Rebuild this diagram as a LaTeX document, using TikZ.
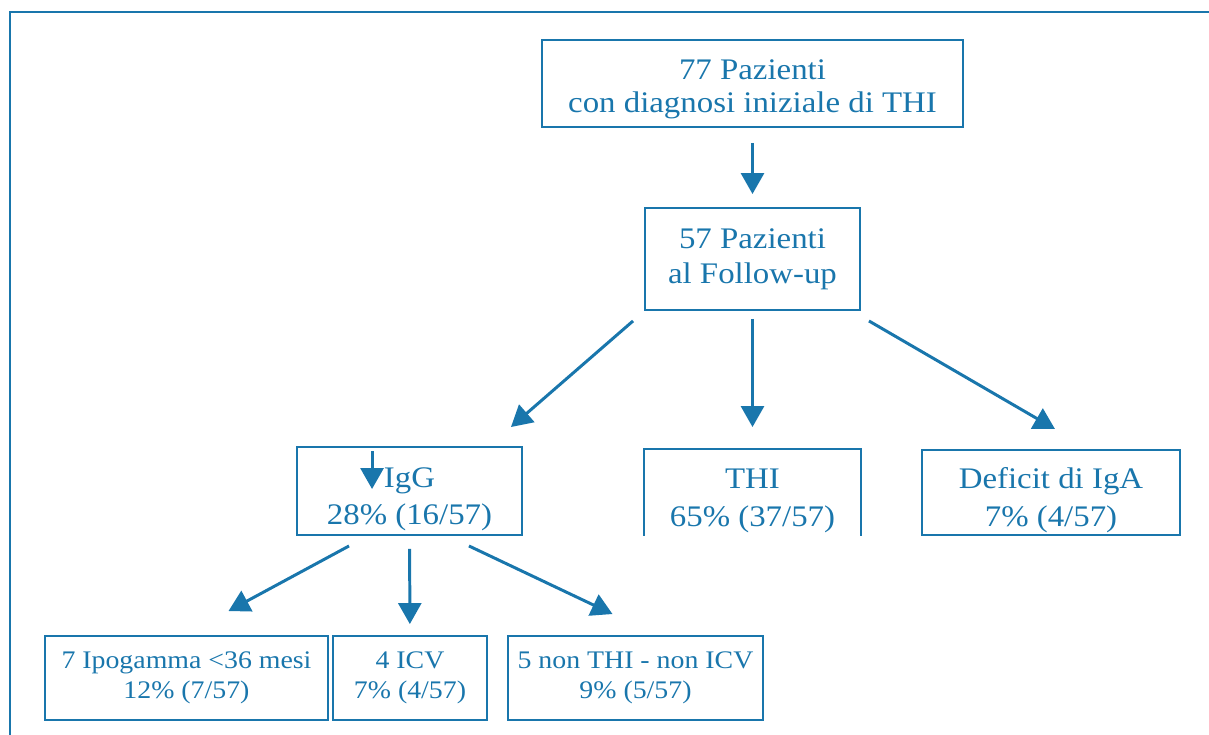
\documentclass[tikz,border=0pt]{standalone}
\usepackage{fontspec}
\setmainfont{Liberation Serif}[FakeStretch=1.1]
\usepackage{tikz}
\usetikzlibrary{arrows.meta,positioning,calc}
\definecolor{blu}{RGB}{25,118,172}
\begin{document}
\begin{tikzpicture}[
	box/.style={draw=blu,line width=1.1pt,text=blu,align=center,inner sep=0pt,font=\fontsize{17}{20}\selectfont},
	rowbox/.style={box,font=\fontsize{17}{21.5}\selectfont,text height=42.6pt,text depth=4pt},
	smallbox/.style={box,font=\fontsize{14.4}{17}\selectfont,minimum height=1.68cm},
	arr/.style={draw=blu,line width=1.7pt,-{Triangle[length=0.42cm,width=0.46cm]}}]
	\useasboundingbox (0,0) rectangle (24.18,-14.7);
	\draw[blu,line width=1.4pt] (0.2,-14.7) -- (0.2,-0.24) -- (24.18,-0.24);
	% livelli
	\node[box,font=\fontsize{17}{18.7}\selectfont,text height=37.4pt,text depth=4pt,minimum width=8.42cm,minimum height=1.74cm] (tot) at (15.05,-1.67) {77 Pazienti\\con diagnosi iniziale di THI};
	\node[box,minimum width=4.3cm,minimum height=2.04cm] (fu) at (15.05,-5.18) {57 Pazienti\\al Follow-up};
	\node[rowbox,minimum width=4.5cm,minimum height=1.76cm] (igg) at (8.19,-9.82) {IgG\\28\% (16/57)};
	\node[rowbox,draw=none,minimum width=4.3cm,minimum height=1.7cm] (thi) at (15.05,-9.85) {THI\\65\% (37/57)};
	\draw[blu,line width=1.1pt] (thi.south west) -- (thi.north west) -- (thi.north east) -- (thi.south east);
	\node[rowbox,minimum width=5.16cm,minimum height=1.7cm] (iga) at (21.02,-9.85) {Deficit di IgA\\7\% (4/57)};
	\node[smallbox,minimum width=5.66cm] (ipo) at (3.73,-13.56) {7 Ipogamma <36 mesi\\12\% (7/57)};
	\node[smallbox,minimum width=3.08cm] (icv) at (8.2,-13.56) {4 ICV\\7\% (4/57)};
	\node[smallbox,minimum width=5.1cm] (non) at (12.71,-13.56) {5 non THI - non ICV\\9\% (5/57)};
	% frecce
	\draw[arr,shorten <=0.3cm,shorten >=0.26cm] (tot) -- (fu);
	\draw[arr] ([shift={(-0.22,-0.2)}]fu.south west) -- ([shift={(-0.24,0.38)}]igg.north east);
	\draw[arr,shorten <=0.16cm,shorten >=0.44cm] (fu) -- (thi);
	\draw[arr] ([shift={(0.16,-0.2)}]fu.south east) -- ([shift={(0.08,0.4)}]iga.north);
	\draw[arr] ([shift={(1.52,-0.1)}]igg.north west) -- ([shift={(1.52,-0.86)}]igg.north west);
	\draw[arr] ([shift={(1.06,-0.2)}]igg.south west) -- ([shift={(0.84,0.48)}]ipo.north);
	\draw[arr,shorten <=0.26cm,shorten >=0.22cm] (igg) -- (icv);
	\draw[arr] ([shift={(-1.08,-0.2)}]igg.south east) -- ([shift={(-0.46,0.42)}]non.north);
\end{tikzpicture}
\end{document}
